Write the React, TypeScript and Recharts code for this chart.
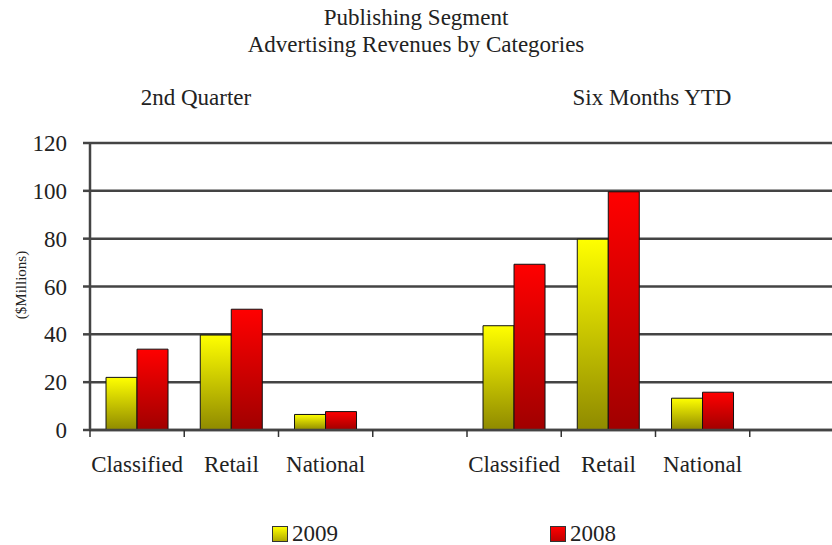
import React from 'react';
import { BarChart, Bar, XAxis, YAxis, CartesianGrid } from 'recharts';

// Две группы: 2-й квартал и полугодие, в каждой 3 категории + пустой слот
const periods = ['2nd Quarter', 'Six Months YTD'];
const categories = ['Classified', 'Retail', 'National', ''];
const values2009 = [22, 39.7, 6.5, null, 43.6, 79.8, 13.3, null];
const values2008 = [33.8, 50.5, 7.7, null, 69.3, 99.6, 15.8, null];
const yTicks = [0, 20, 40, 60, 80, 100, 120];

const data = values2009.map((v, i) => ({
  slot: `s${i}`,
  label: categories[i % categories.length],
  period: periods[Math.floor(i / categories.length)],
  y2009: v,
  y2008: values2008[i],
}));

const FONT = '"Liberation Serif", "Times New Roman", serif';
const CHART_W = 850;
const CHART_H = 545;
const MARGIN = { top: 143, right: 6, left: 0, bottom: 75 };
const Y_WIDTH = 90;
const BAND = (CHART_W - MARGIN.right - MARGIN.left - Y_WIDTH) / data.length;

function CategoryTick(props: any) {
  const { x, y, payload } = props;
  const item = data[payload.index];
  const left = x - BAND / 2;
  return (
    <g>
      <line x1={left} y1={y} x2={left} y2={y + 7} stroke="#333" strokeWidth={1.5} />
      <text x={x} y={y + 42} textAnchor="middle" fill="#222" fontSize={23} fontFamily={FONT}>
        {item ? item.label : ''}
      </text>
    </g>
  );
}

const textStyle: React.CSSProperties = {
  position: 'absolute',
  fontFamily: FONT,
  fontSize: 23,
  lineHeight: '26px',
  color: '#222',
  whiteSpace: 'nowrap',
};

export default function App() {
  return (
    <div
      style={{
        position: 'absolute',
        left: 0,
        top: 0,
        width: 832,
        height: 545,
        overflow: 'hidden',
        background: '#fff',
      }}
    >
      <BarChart
        width={CHART_W}
        height={CHART_H}
        data={data}
        margin={MARGIN}
        barGap={0}
        barCategoryGap="17%"
      >
        <defs>
          <linearGradient id="grad2009" x1="0" y1="0" x2="0" y2="1">
            <stop offset="0%" stopColor="#ffff00" />
            <stop offset="100%" stopColor="#8f8a00" />
          </linearGradient>
          <linearGradient id="grad2008" x1="0" y1="0" x2="0" y2="1">
            <stop offset="0%" stopColor="#ff0000" />
            <stop offset="100%" stopColor="#a00000" />
          </linearGradient>
        </defs>
        <CartesianGrid vertical={false} stroke="#444" strokeWidth={2.5} />
        <XAxis
          dataKey="slot"
          axisLine={{ stroke: '#444', strokeWidth: 2.5 }}
          tickLine={false}
          tickSize={0}
          tickMargin={0}
          height={40}
          interval={0}
          tick={<CategoryTick />}
        />
        <YAxis
          width={Y_WIDTH}
          domain={[0, 120]}
          ticks={yTicks}
          interval={0}
          axisLine={{ stroke: '#444', strokeWidth: 2.5 }}
          tickLine={{ stroke: '#444', strokeWidth: 2.5 }}
          tickSize={7}
          tickMargin={16}
          tick={{ fill: '#222', fontSize: 23, fontFamily: FONT }}
        />
        <Bar dataKey="y2009" fill="url(#grad2009)" stroke="#111" strokeWidth={1} isAnimationActive={false} />
        <Bar dataKey="y2008" fill="url(#grad2008)" stroke="#111" strokeWidth={1} isAnimationActive={false} />
      </BarChart>

      <div style={{ ...textStyle, left: 0, width: 832, top: 5, textAlign: 'center' }}>Publishing Segment</div>
      <div style={{ ...textStyle, left: 0, width: 832, top: 32, textAlign: 'center' }}>
        Advertising Revenues by Categories
      </div>
      <div style={{ ...textStyle, left: 96, width: 200, top: 85, textAlign: 'center' }}>{periods[0]}</div>
      <div style={{ ...textStyle, left: 552, width: 200, top: 85, textAlign: 'center' }}>{periods[1]}</div>

      <div
        style={{
          ...textStyle,
          fontSize: 15,
          lineHeight: '18px',
          left: 21 - 60,
          top: 285 - 9,
          width: 120,
          textAlign: 'center',
          transform: 'rotate(-90deg)',
        }}
      >
        ($Millions)
      </div>

      <div style={{ ...textStyle, lineHeight: '20px', left: 272, top: 524, display: 'flex', alignItems: 'center' }}>
        <span
          style={{
            display: 'inline-block',
            width: 14,
            height: 14,
            border: '1px solid #333',
            background: 'linear-gradient(#ffff00, #b0aa00)',
            marginRight: 4,
          }}
        />
        2009
      </div>
      <div style={{ ...textStyle, lineHeight: '20px', left: 550, top: 524, display: 'flex', alignItems: 'center' }}>
        <span
          style={{
            display: 'inline-block',
            width: 14,
            height: 14,
            border: '1px solid #333',
            background: 'linear-gradient(#ff0000, #c00000)',
            marginRight: 4,
          }}
        />
        2008
      </div>
    </div>
  );
}
